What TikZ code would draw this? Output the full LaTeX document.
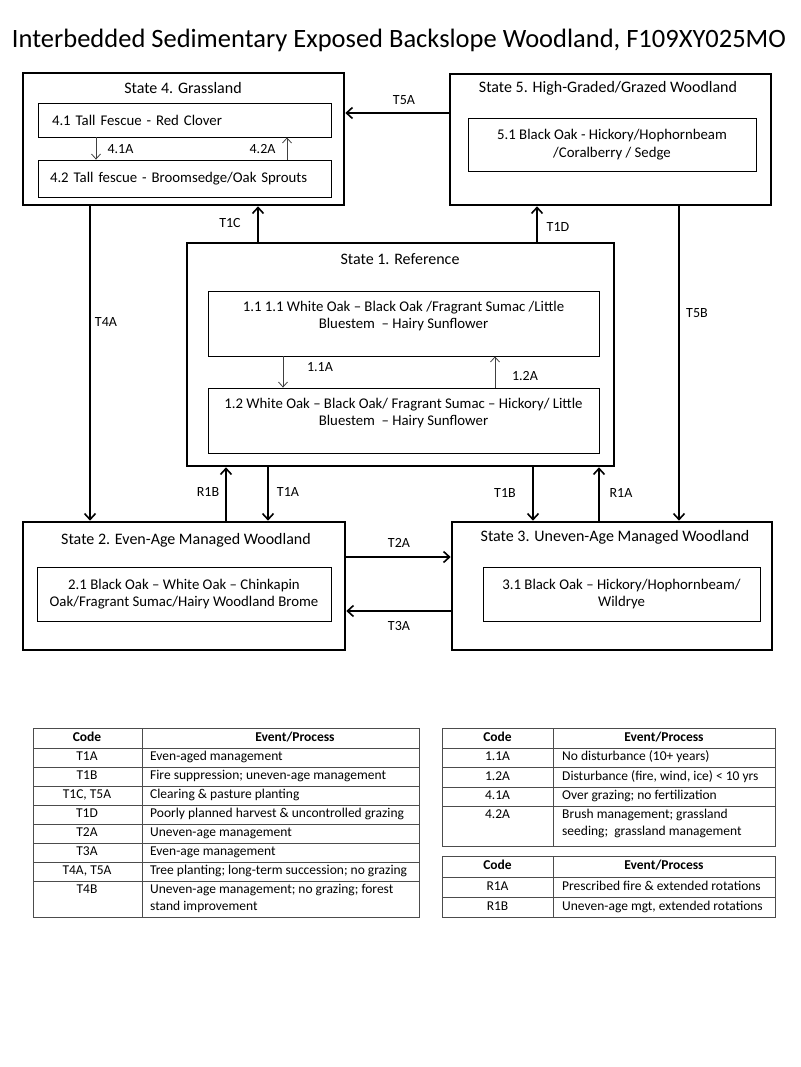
\documentclass[tikz,border=0pt]{standalone}
\usepackage{fontspec}
\setmainfont{Carlito}
\usetikzlibrary{arrows.meta}

\tikzset{
  statebox/.style={draw,line width=2.6pt},
  phasebox/.style={draw,line width=0.8pt,align=center,font=\fontsize{14.8}{17.5}\selectfont},
  statetitle/.style={font=\fontsize{16}{19}\selectfont},
  trans/.style={line width=1.6pt,-{Straight Barb[length=6pt,width=11pt]}},
  subtrans/.style={line width=0.8pt,black!75,-{Straight Barb[length=5pt,width=9pt]}},
  tabline/.style={line width=0.8pt,black!70},
  tabtext/.style={font=\fontsize{13.5}{16}\selectfont,inner sep=0pt,text height=9.5pt,text depth=3pt},
  tabhead/.style={tabtext,font=\fontsize{13.5}{16}\selectfont\bfseries},
}

\begin{document}
\begin{tikzpicture}[x=1pt,y=-1pt,font=\fontsize{14}{17}\selectfont]
  \useasboundingbox (0,0) rectangle (800,1067);
  \node[font=\fontsize{26.5}{31}\selectfont] (Title) at (399,40)
     {Interbedded Sedimentary Exposed Backslope Woodland, F109XY025MO};

  % state boxes
  \node[statebox,minimum width=321,minimum height=132] (Sfour) at (183.5,139) {};
  \node[statebox,minimum width=321,minimum height=131] (Sfive) at (610.5,139.5) {};
  \node[statebox,minimum width=427,minimum height=223] (Sone) at (400.5,354.5) {};
  \node[statebox,minimum width=322,minimum height=128] (Stwo) at (184,586) {};
  \node[statebox,minimum width=320,minimum height=128] (Sthree) at (612,586) {};
  \node[statetitle] (Lfour) at (183,88) {State 4. Grassland};
  \node[statetitle] (Lfive) at (608,88) {State 5. High-Graded/Grazed Woodland};
  \node[statetitle] (Lone) at (400,259) {State 1. Reference};
  \node[statetitle] (Ltwo) at (186,540) {State 2. Even-Age Managed Woodland};
  \node[statetitle] (Lthree) at (615,537) {State 3. Uneven-Age Managed Woodland};

  % community phases
  \node[phasebox,minimum width=293,minimum height=34,text width=265,align=left] (Pfourone) at (184.5,120) {4.1 Tall Fescue - Red Clover};
  \node[phasebox,minimum width=293,minimum height=37,text width=269,align=left] (Pfourtwo) at (184.5,178.5) {4.2 Tall fescue - Broomsedge/Oak Sprouts};
  \node[phasebox,minimum width=288,minimum height=53] (Pfiveone) at (612,144.5) {5.1 Black Oak - Hickory/Hophornbeam\\/Coralberry / Sedge};
  \node[phasebox,minimum width=391,minimum height=65] (Poneone) at (403.5,323.5)
     {1.1 1.1 White Oak -- Black Oak /Fragrant Sumac /Little\\Bluestem \ -- Hairy Sunflower\\\mbox{}};
  \node[phasebox,minimum width=391,minimum height=65] (Ponetwo) at (403.5,420.5)
     {1.2 White Oak -- Black Oak/ Fragrant Sumac -- Hickory/ Little\\Bluestem \ -- Hairy Sunflower\\\mbox{}};
  \node[phasebox,minimum width=294,minimum height=54] (Ptwoone) at (184,594)
     {2.1 Black Oak -- White Oak -- Chinkapin\\Oak/Fragrant Sumac/Hairy Woodland Brome};
  \node[phasebox,minimum width=277,minimum height=54] (Pthreeone) at (621.5,594)
     {3.1 Black Oak -- Hickory/Hophornbeam/\\Wildrye};

  % x positions of the vertical connectors
  \coordinate (a41) at (96,0);   \coordinate (a42) at (287,0);
  \coordinate (a11) at (283,0);  \coordinate (a12) at (495,0);
  \coordinate (T1C) at (258,0);  \coordinate (T1D) at (537,0);
  \coordinate (T4A) at (90,0);   \coordinate (T5B) at (679,0);
  \coordinate (R1B) at (226,0);  \coordinate (T1A) at (268,0);
  \coordinate (T1B) at (533,0);  \coordinate (R1A) at (599,0);
  \coordinate (T5A) at (0,113);  \coordinate (T2A) at (0,557);
  \coordinate (T3A) at (0,611);

  % within-state pathways
  \draw[subtrans] (Pfourone.south -| a41) -- (Pfourtwo.north -| a41);
  \draw[subtrans] (Pfourtwo.north -| a42) -- (Pfourone.south -| a42);
  \draw[subtrans] (Poneone.south -| a11) -- (Ponetwo.north -| a11);
  \draw[subtrans] (Ponetwo.north -| a12) -- (Poneone.south -| a12);
  \node[anchor=west] (l41) at (104,149) {4.1A};
  \node[anchor=east] (l42) at (279,149) {4.2A};
  \node (l11) at (320,367) {1.1A};
  \node (l12) at (525,376) {1.2A};

  % transitions
  \draw[trans] (Sfive.west |- T5A) -- (Sfour.east |- T5A);
  \draw[trans] (Sone.north -| T1C) -- (Sfour.south -| T1C);
  \draw[trans] (Sone.north -| T1D) -- (Sfive.south -| T1D);
  \draw[trans] (Sfour.south -| T4A) -- (Stwo.north -| T4A);
  \draw[trans] (Sfive.south -| T5B) -- (Sthree.north -| T5B);
  \draw[trans] (Stwo.north -| R1B) -- (Sone.south -| R1B);
  \draw[trans] (Sone.south -| T1A) -- (Stwo.north -| T1A);
  \draw[trans] (Sone.south -| T1B) -- (Sthree.north -| T1B);
  \draw[trans] (Sthree.north -| R1A) -- (Sone.south -| R1A);
  \draw[trans] (Stwo.east |- T2A) -- (Sthree.west |- T2A);
  \draw[trans] (Sthree.west |- T3A) -- (Stwo.east |- T3A);
  \foreach \n/\x/\y in {T5A/404/100,T1C/230/223,T1D/558/227,T4A/106/322,T5B/697/313,
                        R1B/208/492,T1A/288/492,T1B/505/493,R1A/621/493,T2A/399/543,T3A/399/626}
    \node (lab\n) at (\x,\y) {\n};

  % legend tables
  \draw[tabline] (33,728) rectangle (419,917);
  \draw[tabline] (142,728) -- (142,917);
  \foreach \y in {748,767,786,805,824,843,862,881}
    \draw[tabline] (33,\y) -- (419,\y);
  \draw[tabline] (442,728) rectangle (775,846);
  \draw[tabline] (553,728) -- (553,846);
  \foreach \y in {748,767,787,806}
    \draw[tabline] (442,\y) -- (775,\y);
  \draw[tabline] (442,856) rectangle (775,917);
  \draw[tabline] (553,856) -- (553,917);
  \foreach \y in {877,897}
    \draw[tabline] (442,\y) -- (775,\y);

  \foreach \cx/\ex/\y in {87/295/738,497.5/664/738,497.5/664/866.5}{%
    \node[tabhead] at (\cx,\y) {Code};
    \node[tabhead] at (\ex,\y) {Event/Process};
  }
  \foreach \y/\c/\t in {757.5/T1A/Even-aged management,
                        776.5/T1B/Fire suppression; uneven-age management,
                        {795.5/T1C, T5A/Clearing \& pasture planting},
                        814.5/T1D/Poorly planned harvest \& uncontrolled grazing,
                        833.5/T2A/Uneven-age management,
                        852.5/T3A/Even-age management,
                        {871.5/T4A, T5A/Tree planting; long-term succession; no grazing},
                        890/T4B/Uneven-age management; no grazing; forest}{%
    \node[tabtext] at (87,\y) {\c};
    \node[tabtext,anchor=west] at (150,\y) {\t};
  }
  \node[tabtext,anchor=west] at (150,907) {stand improvement};
  \foreach \y/\c/\t in {757.5/1.1A/No disturbance (10+ years),
                        777/1.2A/Disturbance (fire{,} wind{,} ice) < 10 yrs,
                        796.5/4.1A/Over grazing; no fertilization,
                        815/4.2A/Brush management; grassland,
                        887/R1A/Prescribed fire \& extended rotations,
                        {907/R1B/Uneven-age mgt, extended rotations}}{%
    \node[tabtext] at (497.5,\y) {\c};
    \node[tabtext,anchor=west] at (562,\y) {\t};
  }
  \node[tabtext,anchor=west] at (562,832) {seeding; \ grassland management};
\end{tikzpicture}
\end{document}
